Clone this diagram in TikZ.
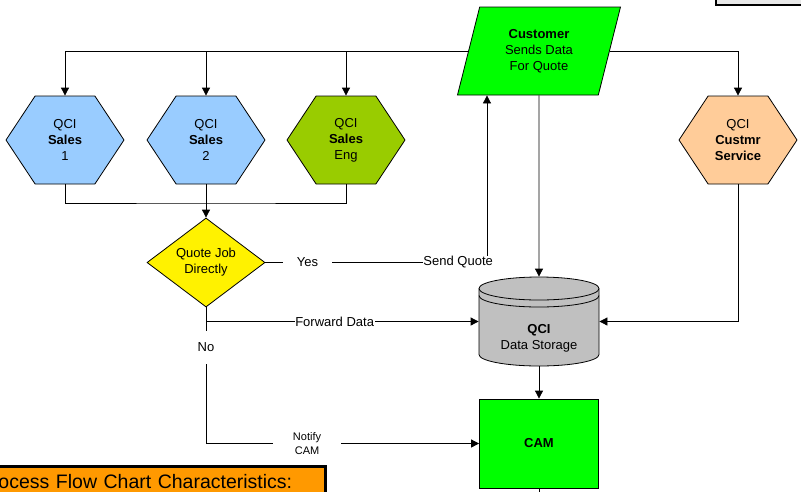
\documentclass[tikz,border=0pt]{standalone}
\usepackage{fontspec}
\setmainfont{Liberation Sans}
\usetikzlibrary{shapes.geometric,shapes.symbols,arrows.meta}
\definecolor{salesblue}{HTML}{99CCFF}
\definecolor{enggreen}{HTML}{99CC00}
\definecolor{svcpeach}{HTML}{FFCC99}
\definecolor{brightgreen}{HTML}{00FF00}
\definecolor{storegray}{HTML}{C0C0C0}
\definecolor{noteorange}{HTML}{FF9900}
\definecolor{legendgray}{HTML}{E8E8E8}
\begin{document}
\begin{tikzpicture}[x=1pt,y=1pt,line width=0.8pt,
  >={Triangle[length=8pt,width=8pt]},
  every node/.style={font=\fontsize{13}{16}\selectfont},
  hexa/.style={draw,signal,signal to=east and west,signal pointer angle=113,
    minimum width=118pt,minimum height=88pt,inner sep=0pt,align=center},
  lbl/.style={fill=white,inner sep=0.5pt}]
  \useasboundingbox (0,0) rectangle (801,-491);
  % frames at the edges
  \node[draw,line width=2pt,outer sep=0pt,fill=legendgray,anchor=south west,
    minimum width=100pt,minimum height=30pt] (leg) at (716,-5) {};
  \node[draw,line width=3pt,outer sep=0pt,fill=noteorange,anchor=north west,
    text width=338pt,inner xsep=8pt,inner ysep=8pt,
    font=\fontsize{19.5}{23}\selectfont] (chr) at (-29,-466.5)
    {Process Flow Chart Characteristics:};
  % data storage drum
  \draw[fill=storegray] (479,-288.5) -- (479,-354.5)
    arc[start angle=180,end angle=360,x radius=60,y radius=11.5] -- (599,-288.5)
    arc[start angle=0,end angle=180,x radius=60,y radius=11.5] -- cycle;
  \draw (479,-288.5) arc[start angle=180,end angle=360,x radius=60,y radius=11.5];
  \draw (479,-295.5) arc[start angle=180,end angle=360,x radius=60,y radius=11.5];
  \node[minimum width=120pt,minimum height=89pt] (dst) at (539,-321.5) {};
  \node[align=center] (dsttxt) at (539,-338.5) {\textbf{QCI}\\Data Storage};
  % the steps
  \node[trapezium,draw,fill=brightgreen,trapezium left angle=63,
    trapezium right angle=117,trapezium stretches body,align=center,
    minimum width=163pt,minimum height=88pt,inner sep=0pt] (cust) at (539,-51)
    {\textbf{Customer}\\Sends Data\\For Quote};
  \node[hexa,fill=salesblue] (s1) at (65,-140) {QCI\\\textbf{Sales}\\1};
  \node[hexa,fill=salesblue] (s2) at (206,-140) {QCI\\\textbf{Sales}\\2};
  \node[hexa,fill=enggreen] (eng) at (346,-140) {QCI\\\textbf{Sales}\\Eng};
  \node[hexa,fill=svcpeach] (svc) at (738,-140) {QCI\\\textbf{Custmr}\\\textbf{Service}};
  \node[diamond,draw,fill=yellow,aspect=1.4,align=center,inner sep=1pt,
    minimum width=118pt,minimum height=89pt] (dec) at (206,-262.5) {Quote Job\\Directly};
  \node[draw,fill=brightgreen,minimum width=119pt,minimum height=89pt]
    (cam) at (539,-443.5) {\textbf{CAM}};
  \coordinate (mrg) at (206,-203);
  \coordinate (camout) at (539,-500);
  % connectors
  \draw[->] (cust.west) -| (s1.north);
  \draw[->] (cust.west) -| (s2.north);
  \draw[->] (cust.west) -| (eng.north);
  \draw[->] (cust.east) -| (svc.north);
  \draw (s1.south) |- (mrg) -| (eng.south);
  \draw[->] (s2.south) -- (dec.north);
  \draw[->] (dec.east) -| node[lbl,pos=0.095,inner xsep=14pt]{Yes}
    node[lbl,pos=0.435]{Send Quote} ([xshift=30pt]cust.bottom left corner);
  \draw[->] (cust) -- (dst);
  \draw[->] (svc.south) |- (dst.east);
  \draw[->] (dec.south) |- node[lbl,pos=0.736]{Forward Data} (dst.west);
  \draw[->] (dec.south) |- node[lbl,pos=0.147,inner ysep=12pt]{No}
    node[lbl,pos=0.685,inner xsep=20pt,align=center,font=\fontsize{11}{14}\selectfont]{Notify\\CAM} (cam.west);
  \draw[->] (dst) -- (cam);
  \draw (cam.south) -- (camout);
\end{tikzpicture}
\end{document}
